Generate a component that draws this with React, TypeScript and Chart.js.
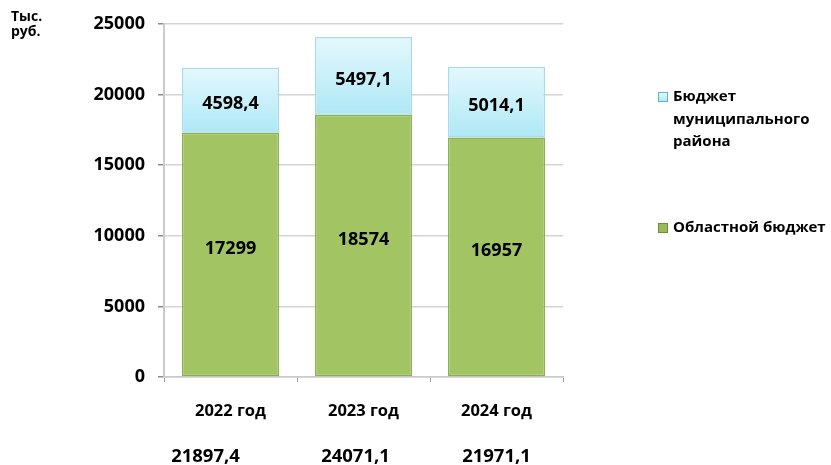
import React, { useEffect, useRef } from "react";
import { Chart, registerables } from "chart.js";

Chart.register(...registerables);

const categories = ["2022 год", "2023 год", "2024 год"];
const regionalBudget = [17299, 18574, 16957];
const municipalBudget = [4598.4, 5497.1, 5014.1];
const regionalLabels = ["17299", "18574", "16957"];
const municipalLabels = ["4598,4", "5497,1", "5014,1"];
const totalLabels = ["21897,4", "24071,1", "21971,1"];
const yTicks = [0, 5000, 10000, 15000, 20000, 25000];
const legendMunicipal = ["Бюджет", "муниципального", "района"];
const legendRegional = "Областной бюджет";
const unitLabel = ["Тыс.", "руб."];

const FONT = "'Open Sans', Lato, sans-serif";
const totalsOffset = [-25, -8, 0];

const overlayPlugin = {
  id: "overlay",
  afterDatasetsDraw(chart: any) {
    const ctx = chart.ctx;
    ctx.save();
    ctx.fillStyle = "#000";
    ctx.textAlign = "center";
    ctx.textBaseline = "middle";
    ctx.font = `bold 18px ${FONT}`;
    const m0 = chart.getDatasetMeta(0);
    const m1 = chart.getDatasetMeta(1);
    m0.data.forEach((el: any, i: number) => {
      const cy = (el.y + el.base) / 2 - 6;
      ctx.fillText(regionalLabels[i], el.x, cy);
    });
    m1.data.forEach((el: any, i: number) => {
      const cy = (el.y + el.base) / 2 + 4;
      ctx.fillText(municipalLabels[i], el.x, cy);
    });
    // totals
    ctx.font = `bold 18.5px ${FONT}`;
    m0.data.forEach((el: any, i: number) => {
      ctx.fillText(totalLabels[i], el.x + totalsOffset[i], 457);
    });
    // unit label
    ctx.textAlign = "left";
    ctx.font = `bold 14px ${FONT}`;
    ctx.fillText(unitLabel[0], 11, 17);
    ctx.fillText(unitLabel[1], 11, 32);
    // legend
    const lx = 658;
    ctx.font = `bold 15px ${FONT}`;
    const g = ctx.createLinearGradient(0, 92, 0, 102);
    g.addColorStop(0, "#e8fafe");
    g.addColorStop(1, "#aee6f3");
    ctx.fillStyle = g;
    ctx.fillRect(lx, 92, 10, 10);
    ctx.strokeStyle = "#5fb3cf";
    ctx.lineWidth = 1;
    ctx.strokeRect(lx + 0.5, 92.5, 9, 9);
    ctx.fillStyle = "#000";
    legendMunicipal.forEach((t, i) => ctx.fillText(t, 673, 97 + i * 22.5));
    ctx.fillStyle = "#9bbb59";
    ctx.fillRect(lx, 223, 10, 10);
    ctx.strokeStyle = "#6f8a3a";
    ctx.strokeRect(lx + 0.5, 223.5, 9, 9);
    ctx.fillStyle = "#000";
    ctx.fillText(legendRegional, 673, 228);
    ctx.restore();
  },
};

export default function App() {
  const ref = useRef<HTMLCanvasElement>(null);
  useEffect(() => {
    const canvas = ref.current!;
    const chart = new Chart(canvas, {
      type: "bar",
      data: {
        labels: categories,
        datasets: [
          {
            label: legendRegional,
            data: regionalBudget,
            backgroundColor: "#a2c462",
            borderColor: "#8db04f",
            borderWidth: 1.5,
            borderSkipped: false,
            barPercentage: 0.73,
            categoryPercentage: 1,
          },
          {
            label: legendMunicipal.join(" "),
            data: municipalBudget,
            backgroundColor: (c: any) => {
              const ch = c.chart;
              if (!ch.chartArea || c.dataIndex === undefined) return "#c8f0f8";
              const ys = ch.scales.y;
              const i = c.dataIndex;
              const top = ys.getPixelForValue(regionalBudget[i] + municipalBudget[i]);
              const bot = ys.getPixelForValue(regionalBudget[i]);
              const g = ch.ctx.createLinearGradient(0, top, 0, bot);
              g.addColorStop(0, "#e4f8fd");
              g.addColorStop(1, "#aee8f5");
              return g;
            },
            borderColor: "#a6dce9",
            borderWidth: 1.5,
            borderSkipped: false,
            barPercentage: 0.73,
            categoryPercentage: 1,
          },
        ],
      },
      options: {
        responsive: false,
        animation: false,
        layout: { padding: { left: 0, top: 24, right: 268, bottom: 0 } },
        plugins: { legend: { display: false }, tooltip: { enabled: false } },
        scales: {
          x: {
            stacked: true,
            afterFit: (s: any) => {
              s.height = 88;
            },
            grid: {
              offset: true,
              drawOnChartArea: false,
              drawTicks: true,
              tickLength: 5,
              tickColor: "#9a9a9a",
            },
            border: { color: "#c8c8c8", width: 1.5 },
            ticks: {
              color: "#000",
              padding: 19,
              font: { family: FONT, size: 16.5, weight: "bold" },
            },
          },
          y: {
            stacked: true,
            min: 0,
            max: 25000,
            afterFit: (s: any) => {
              s.width = 164;
            },
            afterBuildTicks: (s: any) => {
              s.ticks = yTicks.map((v) => ({ value: v }));
            },
            grid: {
              color: "#d3d3d3",
              lineWidth: 1.5,
              tickLength: 6,
              tickColor: "#8c8c8c",
            },
            border: { color: "#cccccc", width: 2 },
            ticks: {
              color: "#000",
              padding: 13,
              font: { family: FONT, size: 18, weight: "bold" },
              callback: (v: any) => String(v),
            },
          },
        },
      },
      plugins: [overlayPlugin],
    });
    return () => chart.destroy();
  }, []);
  return (
    <div style={{ position: "absolute", left: 0, top: 0, width: 831, height: 465, background: "#fff" }}>
      <canvas ref={ref} width={831} height={465} style={{ display: "block" }} />
    </div>
  );
}
